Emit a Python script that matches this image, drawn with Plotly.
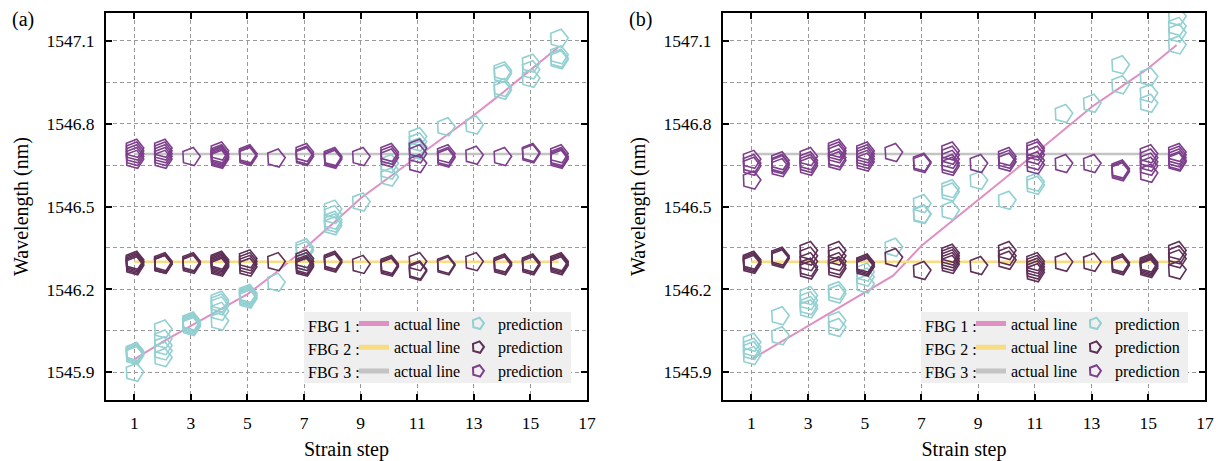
import plotly.graph_objects as go

# ---------------- data ----------------
steps = list(range(1, 17))

# actual lines
a_fbg1_actual = [1545.947, 1546.010, 1546.068, 1546.125, 1546.183, 1546.260, 1546.346, 1546.437,
                 1546.530, 1546.605, 1546.680, 1546.755, 1546.830, 1546.910, 1546.994, 1547.078]
b_fbg1_actual = [1545.947, 1546.008, 1546.068, 1546.129, 1546.190, 1546.250, 1546.358, 1546.440,
                 1546.522, 1546.607, 1546.691, 1546.775, 1546.860, 1546.930, 1547.000, 1547.084]
fbg2_actual = [1546.30] * 16
fbg3_actual = [1546.69] * 16

# predictions (a) – several repeated predictions per strain step
a_fbg1_pred = [
    [1545.975, 1545.970, 1545.965, 1545.960, 1545.900],
    [1546.056, 1546.020, 1545.996, 1545.977, 1545.953],
    [1546.085, 1546.080, 1546.075, 1546.070, 1546.065],
    [1546.160, 1546.150, 1546.140, 1546.120, 1546.085],
    [1546.185, 1546.180, 1546.175, 1546.170, 1546.165],
    [1546.225],
    [1546.350, 1546.340, 1546.310, 1546.300, 1546.300],
    [1546.490, 1546.470, 1546.450, 1546.440, 1546.430],
    [1546.516],
    [1546.655, 1546.631, 1546.606],
    [1546.752, 1546.733, 1546.715, 1546.703],
    [1546.788],
    [1546.794],
    [1546.990, 1546.980, 1546.930, 1546.920],
    [1547.018, 1546.994, 1546.963],
    [1547.108, 1547.048, 1547.036, 1547.030],
]
a_fbg2_pred = [
    [1546.305, 1546.300, 1546.295, 1546.290, 1546.285],
    [1546.300, 1546.295, 1546.290, 1546.290],
    [1546.300, 1546.295, 1546.290],
    [1546.305, 1546.300, 1546.295, 1546.290, 1546.285, 1546.280],
    [1546.310, 1546.300, 1546.290, 1546.280],
    [1546.300],
    [1546.310, 1546.300, 1546.290, 1546.285, 1546.280],
    [1546.305, 1546.300, 1546.295],
    [1546.290],
    [1546.290, 1546.285, 1546.280],
    [1546.300, 1546.270, 1546.265],
    [1546.290, 1546.285],
    [1546.300],
    [1546.295, 1546.290, 1546.285],
    [1546.295, 1546.290, 1546.285],
    [1546.300, 1546.295, 1546.290, 1546.285],
]
a_fbg3_pred = [
    [1546.710, 1546.700, 1546.690, 1546.680, 1546.670],
    [1546.710, 1546.700, 1546.690, 1546.680, 1546.670],
    [1546.680],
    [1546.700, 1546.690, 1546.685, 1546.680, 1546.675, 1546.670],
    [1546.690, 1546.685, 1546.680],
    [1546.675],
    [1546.695, 1546.685, 1546.680],
    [1546.680, 1546.675, 1546.670],
    [1546.680],
    [1546.695, 1546.685, 1546.675],
    [1546.710, 1546.690, 1546.655],
    [1546.690, 1546.680, 1546.675],
    [1546.685],
    [1546.680],
    [1546.695, 1546.690],
    [1546.690, 1546.680, 1546.675, 1546.670],
]

# predictions (b)
b_fbg1_pred = [
    [1546.008, 1545.990, 1545.978, 1545.960],
    [1546.104, 1546.032],
    [1546.177, 1546.159, 1546.141, 1546.129],
    [1546.195, 1546.183, 1546.086, 1546.062],
    [1546.262, 1546.244, 1546.219],
    [1546.352],
    [1546.510, 1546.473, 1546.470],
    [1546.564, 1546.552, 1546.485],
    [1546.594],
    [1546.660, 1546.522],
    [1546.588, 1546.576],
    [1546.836],
    [1546.873],
    [1547.012, 1546.940],
    [1546.969, 1546.909, 1546.873],
    [1547.187, 1547.151, 1547.127, 1547.084],
]
b_fbg2_pred = [
    [1546.305, 1546.300, 1546.295, 1546.290],
    [1546.320, 1546.315, 1546.310],
    [1546.340, 1546.320, 1546.300, 1546.280, 1546.270],
    [1546.340, 1546.320, 1546.300, 1546.285, 1546.275],
    [1546.295, 1546.290, 1546.285, 1546.280],
    [1546.315],
    [1546.268],
    [1546.330, 1546.320, 1546.310, 1546.300, 1546.290],
    [1546.286],
    [1546.340, 1546.320, 1546.305],
    [1546.300, 1546.290, 1546.280, 1546.270, 1546.260],
    [1546.298],
    [1546.298],
    [1546.295, 1546.290, 1546.285],
    [1546.295, 1546.290, 1546.285, 1546.280, 1546.275],
    [1546.340, 1546.325, 1546.310, 1546.270],
]
b_fbg3_pred = [
    [1546.670, 1546.655, 1546.645, 1546.595],
    [1546.665, 1546.655, 1546.650, 1546.640],
    [1546.680, 1546.665, 1546.655, 1546.645],
    [1546.710, 1546.700, 1546.690, 1546.675, 1546.665],
    [1546.700, 1546.690, 1546.680, 1546.670, 1546.660],
    [1546.695],
    [1546.660, 1546.655],
    [1546.700, 1546.685, 1546.670, 1546.655, 1546.645],
    [1546.655],
    [1546.680, 1546.670, 1546.660],
    [1546.710, 1546.700, 1546.685, 1546.665, 1546.650],
    [1546.655],
    [1546.655],
    [1546.635, 1546.630, 1546.625],
    [1546.690, 1546.675, 1546.660, 1546.645, 1546.620],
    [1546.695, 1546.685, 1546.675, 1546.665, 1546.660],
]

y_ticks = [1545.9, 1546.2, 1546.5, 1546.8, 1547.1]
x_ticks = [1, 3, 5, 7, 9, 11, 13, 15, 17]
fbg_labels = ["FBG 1 :", "FBG 2 :", "FBG 3 :"]

# ---------------- style ----------------
line_colors = ["#e08fc2", "#f7dc84", "#c4c4c4"]
marker_colors = ["#92d0d1", "#5e2f57", "#7d3e8c"]
FONT = "Liberation Serif"
W, H = 1218, 461
ML, MR, MT, MB = 106, 13, 13, 61
PW, PH = W - ML - MR, H - MT - MB


def px_x(p):
    return (p - ML) / PW


def px_y(p):
    return (H - MB - p) / PH


def flatten(pred):
    xs, ys = [], []
    for s, vals in zip(steps, pred):
        for v in vals:
            xs.append(s)
            ys.append(v)
    return xs, ys


fig = go.Figure()

panels = [
    ("x", "y", [a_fbg1_actual, fbg2_actual, fbg3_actual], [a_fbg1_pred, a_fbg2_pred, a_fbg3_pred], "legend", "legend2"),
    ("x2", "y2", [b_fbg1_actual, fbg2_actual, fbg3_actual], [b_fbg1_pred, b_fbg2_pred, b_fbg3_pred], "legend3", "legend4"),
]

for xa, ya, actuals, preds, lg_line, lg_pred in panels:
    for k in range(3):
        fig.add_trace(go.Scatter(
            x=steps, y=actuals[k], mode="lines", name="actual line",
            line=dict(color=line_colors[k], width=2.5 if k else 2),
            xaxis=xa, yaxis=ya, legend=lg_line, showlegend=True))
    for k in range(3):
        xs, ys = flatten(preds[k])
        fig.add_trace(go.Scatter(
            x=xs, y=ys, mode="markers", name="prediction",
            marker=dict(symbol="pentagon-open", size=19, angle=15,
                        color=marker_colors[k], line=dict(width=1.6, color=marker_colors[k])),
            xaxis=xa, yaxis=ya, legend=lg_pred, showlegend=True))

dom_a = [0, px_x(587)]
dom_b = [px_x(723), 1]

axis_common = dict(
    showline=True, linecolor="black", linewidth=2, mirror="ticks",
    ticks="inside", ticklen=6, tickwidth=1.5, tickcolor="black",
    showgrid=True, gridcolor="#9a9a9a", gridwidth=1, griddash="4px,3px",
    zeroline=False, automargin=False,
    tickfont=dict(family=FONT, size=17.5, color="black"),
)

for name, dom in (("xaxis", dom_a), ("xaxis2", dom_b)):
    fig.layout[name] = dict(
        axis_common, domain=dom, range=[0, 17], tickmode="array", tickvals=x_ticks,
        ticktext=[str(t) for t in x_ticks], ticklabelstandoff=6,
        title=dict(text="Strain step", font=dict(family=FONT, size=20, color="black"), standoff=12),
        anchor="y" if name == "xaxis" else "y2")

for name in ("yaxis", "yaxis2"):
    fig.layout[name] = dict(
        axis_common, domain=[0, 1], range=[1545.8, 1547.2], tickmode="array", tickvals=y_ticks,
        ticktext=[f"{t:.1f}" for t in y_ticks], ticklabelstandoff=6,
        minor=dict(tick0=1545.9, dtick=0.15, showgrid=True, gridcolor="#9a9a9a",
                   griddash="4px,3px", gridwidth=1, ticks=""),
        title=dict(text="Wavelength (nm)", font=dict(family=FONT, size=20, color="black"), standoff=12),
        anchor="x" if name == "yaxis" else "x2")

shapes = []
annotations = []
legend_cfg = {}
row_y = [326.0, 349.0, 372.0]
for off, letter, lg_line, lg_pred in ((0, "(a)", "legend", "legend2"), (617, "(b)", "legend3", "legend4")):
    shapes.append(dict(type="rect", xref="paper", yref="paper",
                       x0=px_x(304 + off), x1=px_x(571 + off), y0=px_y(383), y1=px_y(312),
                       fillcolor="#efefef", line=dict(width=0), layer="above"))
    for i, lab in enumerate(fbg_labels):
        annotations.append(dict(text=lab, xref="paper", yref="paper", x=px_x(362 + off),
                                y=px_y(row_y[i]), xanchor="right", yanchor="middle",
                                showarrow=False, font=dict(family=FONT, size=16, color="black")))
    annotations.append(dict(text=letter, xref="paper", yref="paper", x=px_x(10 + off), y=px_y(19),
                            xanchor="left", yanchor="middle", showarrow=False,
                            font=dict(family=FONT, size=20, color="black")))
    for lg, xl in ((lg_line, 354 + off), (lg_pred, 458 + off)):
        legend_cfg[lg] = dict(x=px_x(xl), y=px_y(306.5), xanchor="left", yanchor="top",
                              xref="paper", yref="paper",
                              bgcolor="rgba(0,0,0,0)", borderwidth=0,
                              font=dict(family=FONT, size=16, color="black"),
                              itemwidth=30, tracegroupgap=0, itemsizing="constant")

fig.update_layout(
    width=W, height=H,
    margin=dict(l=ML, r=MR, t=MT, b=MB, autoexpand=False),
    paper_bgcolor="white", plot_bgcolor="white",
    font=dict(family=FONT, color="black"),
    shapes=shapes, annotations=annotations,
    **legend_cfg,
)

fig.write_html(
    "out.html",
    config={"displayModeBar": False},
    post_script="document.body.style.margin='0px';document.body.style.padding='0px';"
                "document.documentElement.style.overflow='hidden';",
)
